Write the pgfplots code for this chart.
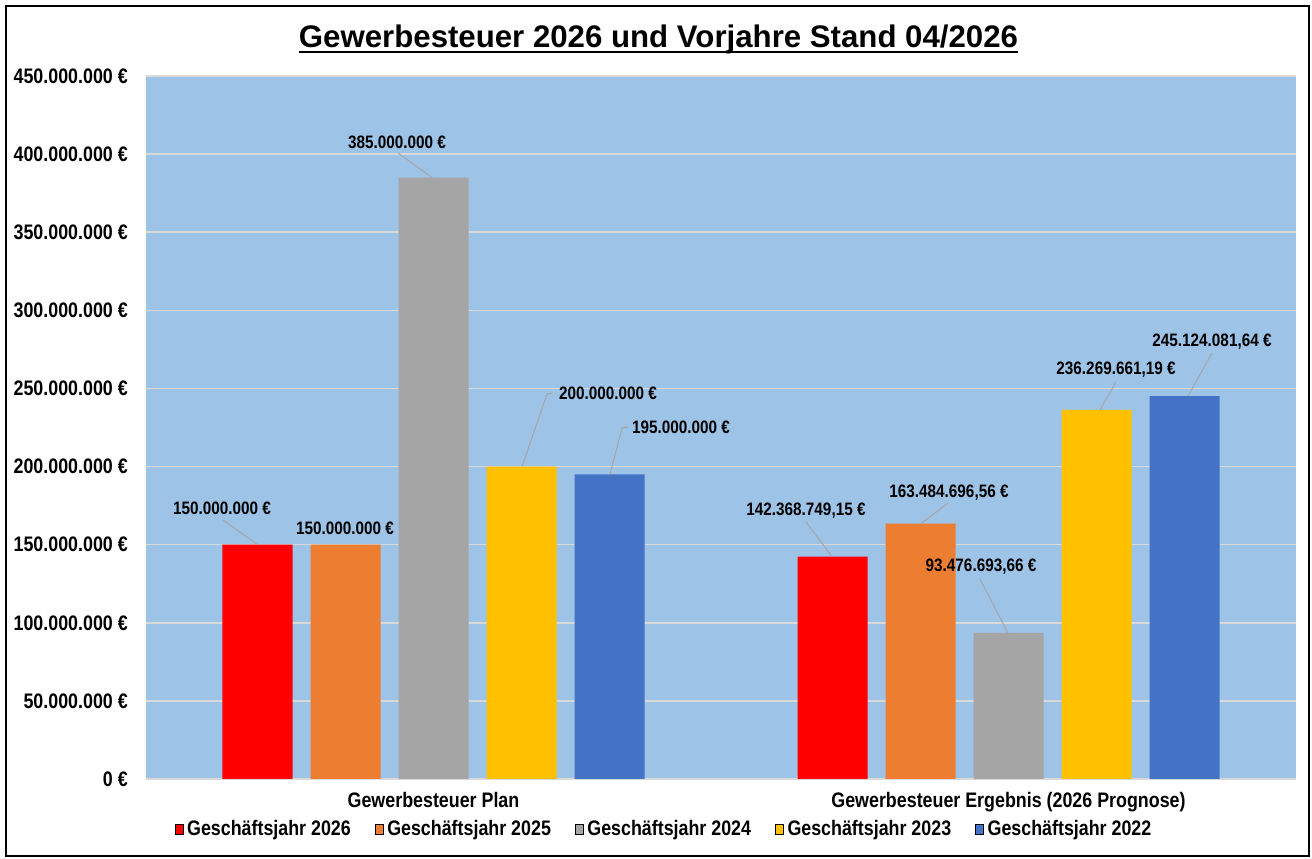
\documentclass[border=0pt]{standalone}
\usepackage{fontspec}
\setmainfont{Liberation Sans}
\newfontfamily\nar{Liberation Sans}[FakeStretch=0.85]
\usepackage{pgfplots}
\pgfplotsset{compat=1.18}
\definecolor{plotblue}{HTML}{9DC3E6}
\definecolor{gridgray}{HTML}{D9D9D9}
\definecolor{cA}{HTML}{FF0000}
\definecolor{cB}{HTML}{ED7D31}
\definecolor{cC}{HTML}{A5A5A5}
\definecolor{cD}{HTML}{FFC000}
\definecolor{cE}{HTML}{4472C4}
\definecolor{leadgray}{HTML}{A6A6A6}
\begin{document}
\begin{tikzpicture}[
  lbl/.style={font=\nar\bfseries\fontsize{18}{22}\selectfont, inner sep=0pt, anchor=center},
  leader/.style={draw=leadgray, line width=1pt}]
\useasboundingbox (0,0) rectangle (1312pt,859pt);
\draw[line width=2pt] (5.5pt,2.5pt) rectangle (1308.5pt,852.5pt);
\node[anchor=base, inner sep=0pt, font=\bfseries\fontsize{31.2}{37}\selectfont] (T) at (658.5pt,811pt) {Gewerbesteuer 2026 und Vorjahre Stand 04/2026};
\draw[line width=2pt] ([yshift=-4pt]T.base west) -- ([yshift=-4pt]T.base east);
\begin{axis}[
  at={(146pt,80pt)}, anchor=south west,
  width=1150pt, height=703pt, scale only axis,
  xmin=-0.5, xmax=1.5, ymin=0, ymax=450,
  ybar=18pt, bar width=70pt,
  xtick={0,1},
  xticklabels={Gewerbesteuer Plan, Gewerbesteuer Ergebnis (2026 Prognose)},
  ytick={0,50,100,150,200,250,300,350,400,450},
  yticklabels={0 €, 50.000.000 €, 100.000.000 €, 150.000.000 €, 200.000.000 €, 250.000.000 €, 300.000.000 €, 350.000.000 €, 400.000.000 €, 450.000.000 €},
  ymajorgrids, grid style={draw=gridgray, line width=1.5pt},
  axis line style={draw=none},
  major tick length=0pt,
  axis background/.style={fill=plotblue},
  tick label style={font=\nar\bfseries\fontsize{21}{25}\selectfont},
  yticklabel style={anchor=east, inner sep=0pt, xshift=-18pt},
  xticklabel style={anchor=base, inner sep=0pt, yshift=-29pt},
  legend columns=5,
  legend image post style={xscale=0.469, yscale=1.76},
  legend style={draw=none, fill=none, at={(0.4496,-0.0711)}, anchor=center,
    font=\nar\bfseries\fontsize{21}{25}\selectfont,
    nodes={inner sep=0pt},
    /tikz/every odd column/.style={column sep=4pt},
    /tikz/every even column/.style={column sep=24pt}},
]
\addplot[fill=cA, draw=none, area legend] coordinates {(0,150) (1,142.36874915)};
\addplot[fill=cB, draw=none, area legend] coordinates {(0,150) (1,163.48469656)};
\addplot[fill=cC, draw=none, area legend] coordinates {(0,385) (1,93.47669366)};
\addplot[fill=cD, draw=none, area legend] coordinates {(0,200) (1,236.26966119)};
\addplot[fill=cE, draw=none, area legend] coordinates {(0,195) (1,245.12408164)};
\legend{Geschäftsjahr 2026, Geschäftsjahr 2025, Geschäftsjahr 2024, Geschäftsjahr 2023, Geschäftsjahr 2022}
% leader lines
\draw[leader] (axis cs:-0.3661,165.79) -- (axis cs:-0.3061,150);
\draw[leader] (axis cs:-0.0617,400.71) -- (axis cs:-0.0026,385);
\draw[leader] (axis cs:0.2061,247.08) -- (axis cs:0.1974,246.44) -- (axis cs:0.1539,200);
\draw[leader] (axis cs:0.3383,225.32) -- (axis cs:0.3278,224.68) -- (axis cs:0.3070,195);
\draw[leader] (axis cs:0.6478,164.51) -- (axis cs:0.6930,142.37);
\draw[leader] (axis cs:0.8948,176.67) -- (axis cs:0.8478,163.48);
\draw[leader] (axis cs:0.9504,128.02) -- (axis cs:0.9991,93.48);
\draw[leader] (axis cs:1.1870,254.12) -- (axis cs:1.1591,236.27);
\draw[leader] (axis cs:1.3539,272.69) -- (axis cs:1.3122,245.12);
% data labels
\node[lbl] at (axis cs:-0.3678,173.47) {150.000.000 €};
\node[lbl] at (axis cs:-0.1539,160.67) {150.000.000 €};
\node[lbl] at (axis cs:-0.0635,407.75) {385.000.000 €};
\node[lbl] at (axis cs:0.3035,247.08) {200.000.000 €};
\node[lbl] at (axis cs:0.4304,225.32) {195.000.000 €};
\node[lbl] at (axis cs:0.6478,171.55) {142.368.749,15 €};
\node[lbl] at (axis cs:0.8965,183.07) {163.484.696,56 €};
\node[lbl] at (axis cs:0.9522,135.70) {93.476.693,66 €};
\node[lbl] at (axis cs:1.1870,261.81) {236.269.661,19 €};
\node[lbl] at (axis cs:1.3539,279.73) {245.124.081,64 €};
\end{axis}
\end{tikzpicture}
\end{document}
